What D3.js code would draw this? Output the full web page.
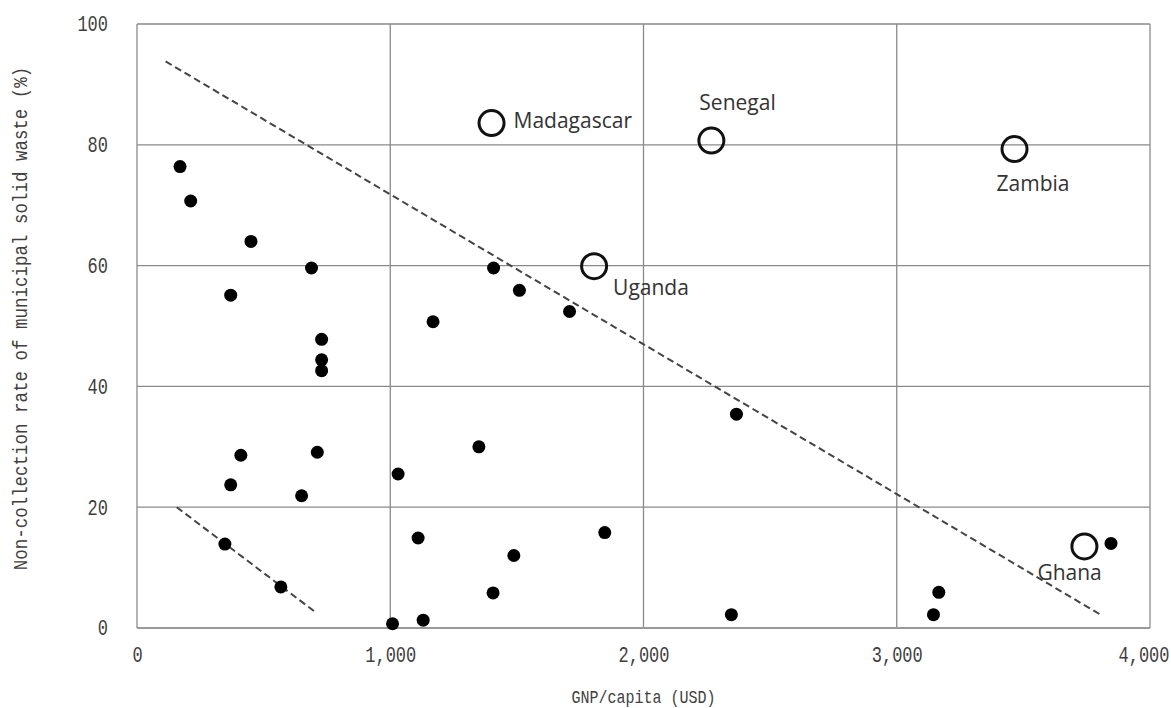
<!DOCTYPE html>
<html>
<head>
<meta charset="utf-8">
<script src="https://cdn.jsdelivr.net/npm/d3@7"></script>
<style>
  html, body { margin: 0; padding: 0; background: #fff; }
  svg { display: block; }
</style>
</head>
<body>
<svg id="chart" width="1171" height="708"></svg>
<script>
// ---- data ----
const xTicks = [0, 1000, 2000, 3000, 4000];
const yTicks = [0, 20, 40, 60, 80, 100];
const xTitle = "GNP/capita (USD)";
const yTitle = "Non-collection rate of municipal solid waste (%)";

// other countries (filled dots): GNP/capita, non-collection rate
const dotGnp  = [170, 212, 450, 689, 370, 729, 729, 729, 410, 370, 712, 650, 347, 568,
                 1009, 1031, 1110, 1130, 1169, 1350, 1408, 1510, 1406, 1488, 1708, 1847,
                 2367, 2347, 3166, 3145, 3846];
const dotRate = [76.4, 70.7, 64.0, 59.6, 55.1, 47.8, 44.4, 42.6, 28.6, 23.7, 29.1, 21.9, 13.9, 6.8,
                 0.7, 25.5, 14.9, 1.3, 50.7, 30.0, 59.6, 55.9, 5.8, 12.0, 52.4, 15.8,
                 35.4, 2.2, 5.9, 2.2, 14.0];

// highlighted countries (open circles)
const hiNames = ["Madagascar", "Senegal", "Uganda", "Zambia", "Ghana"];
const hiGnp   = [1400, 2268, 1805, 3465, 3741];
const hiRate  = [83.6, 80.7, 59.9, 79.3, 13.5];

// dashed guide lines: [gnp, rate] end points
const upperLine = [[113, 93.8], [3813, 2.0]];
const lowerLine = [[157, 20.0], [702, 2.7]];

// ---- drawing ----
const svg = d3.select("#chart");
const L = 137, R = 1150, T = 24, B = 628;
const x = d3.scaleLinear().domain([0, 4000]).range([L, R]);
const y = d3.scaleLinear().domain([0, 100]).range([B, T]);

const gridColor = "#8a8a8a";
const tickFont = "'Liberation Mono', 'DejaVu Sans Mono', monospace";
const textColor = "#404040";

// gridlines
svg.append("g").selectAll("line.h").data(yTicks).join("line")
  .attr("x1", L).attr("x2", R)
  .attr("y1", d => y(d)).attr("y2", d => y(d))
  .attr("stroke", gridColor).attr("stroke-width", 1.3);
svg.append("g").selectAll("line.v").data(xTicks).join("line")
  .attr("x1", d => x(d)).attr("x2", d => x(d))
  .attr("y1", T).attr("y2", B)
  .attr("stroke", gridColor).attr("stroke-width", 1.3);
// bottom axis line a bit heavier
svg.append("line").attr("x1", L).attr("x2", R).attr("y1", B).attr("y2", B)
  .attr("stroke", "#999").attr("stroke-width", 2.2);

// axes (labels only)
const xAxis = d3.axisBottom(x).tickValues(xTicks).tickSize(0).tickPadding(0)
  .tickFormat(d3.format(","));
const gx = svg.append("g").attr("transform", `translate(0,${B + 27})`).call(xAxis);
gx.select(".domain").remove();
gx.selectAll("text").attr("dy", "0.32em").attr("y", 0)
  .attr("transform", "scale(1,1.25)")
  .style("font-family", tickFont).style("font-size", "17px").attr("fill", textColor)
  .attr("text-anchor", d => d === 4000 ? "end" : "middle")
  .attr("x", d => d === 4000 ? 19 : 0);

const yAxis = d3.axisLeft(y).tickValues(yTicks).tickSize(0).tickPadding(0);
const gy = svg.append("g").attr("transform", `translate(${L - 29},0)`).call(yAxis);
gy.select(".domain").remove();
gy.selectAll("text").attr("dy", "0.32em")
  .attr("transform", "scale(1,1.25)")
  .style("font-family", tickFont).style("font-size", "17px").attr("fill", textColor);

// axis titles
svg.append("g").attr("transform", `translate(${x(2000)},697) scale(1,1.25)`)
  .append("text")
  .attr("text-anchor", "middle").attr("dy", "0.32em")
  .style("font-family", tickFont).style("font-size", "15px").attr("fill", textColor)
  .text(xTitle);
svg.append("g")
  .attr("transform", `translate(20,${(57 + 580) / 2}) rotate(-90) scale(1,1.2)`)
  .append("text")
  .attr("text-anchor", "middle").attr("dy", "0.32em")
  .style("font-family", tickFont).style("font-size", "17.5px").attr("fill", textColor)
  .text(yTitle);

// dashed lines
const line = d3.line().x(d => x(d[0])).y(d => y(d[1]));
[upperLine, lowerLine].forEach(pts => {
  svg.append("path").attr("d", line(pts))
    .attr("fill", "none").attr("stroke", "#444").attr("stroke-width", 2)
    .attr("stroke-dasharray", "7,4");
});

// filled dots
svg.append("g").selectAll("circle").data(dotGnp.map((g, i) => [g, dotRate[i]])).join("circle")
  .attr("cx", d => x(d[0])).attr("cy", d => y(d[1])).attr("r", 6.5)
  .attr("fill", "#000");

// open circles
const hi = hiNames.map((n, i) => ({ name: n, gnp: hiGnp[i], rate: hiRate[i] }));
svg.append("g").selectAll("circle").data(hi).join("circle")
  .attr("cx", d => x(d.gnp)).attr("cy", d => y(d.rate)).attr("r", 12.5)
  .attr("fill", "none").attr("stroke", "#111").attr("stroke-width", 3);

// label offsets (layout)
const labelOffset = {
  Madagascar: [22, 5],
  Senegal: [-12, -31],
  Uganda: [19, 29],
  Zambia: [-18, 42],
  Ghana: [-47, 34]
};
svg.append("g").selectAll("text").data(hi).join("text")
  .attr("x", d => x(d.gnp) + labelOffset[d.name][0])
  .attr("y", d => y(d.rate) + labelOffset[d.name][1])
  .style("font-family", "'Open Sans', 'Noto Sans', sans-serif")
  .style("font-size", "21px").attr("fill", "#333")
  .text(d => d.name);
</script>
</body>
</html>
